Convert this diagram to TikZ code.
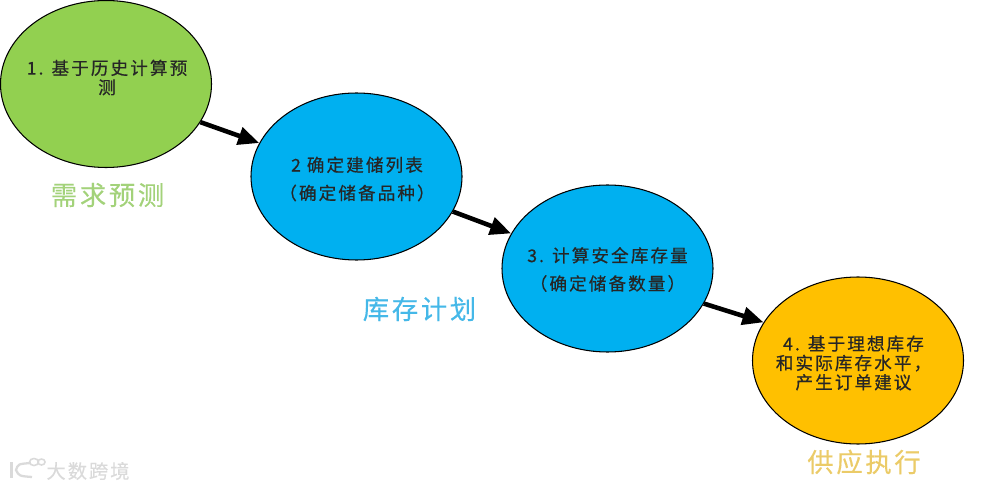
\documentclass[tikz,border=0pt]{standalone}
\usepackage{fontspec}
\usepackage{xcolor}
\usetikzlibrary{shapes.geometric,arrows.meta}
\newfontfamily\cjk[LetterSpace=12,FakeBold=0.6]{Noto Sans CJK SC}
\newfontfamily\cjkwide[LetterSpace=10,FakeBold=0.3]{Noto Sans CJK SC}
\definecolor{demandfill}{HTML}{92D050}
\definecolor{planfill}{HTML}{00B0F0}
\definecolor{supplyfill}{HTML}{FFC000}
\definecolor{demandlabel}{HTML}{A3D27A}
\definecolor{planlabel}{HTML}{45B8E8}
\definecolor{supplylabel}{HTML}{EBCB68}
\definecolor{marktext}{HTML}{DADADA}

\begin{document}
\begin{tikzpicture}[
        stage/.style={ellipse, draw=black, line width=0.6pt, minimum width=4.22cm, minimum height=3.34cm, inner sep=0pt},
        stagetext/.style={align=center, text=black!85, font=\cjk\fontsize{10}{11}\selectfont},
        grouplabel/.style={font=\cjkwide\fontsize{15}{17}\selectfont},
        flow/.style={line width=2.6pt, -{Triangle[length=12pt,width=10pt]}}
    ]
        \useasboundingbox (0, 0) rectangle (20, 9.78);

        % Stages
        \node[stage, fill=demandfill] (demand) at (2.12, 8.1) {};
        \node[stage, fill=planfill] (plan) at (7.13, 6.25) {};
        \node[stage, fill=planfill] (safety) at (12.15, 4.41) {};
        \node[stage, fill=supplyfill] (supply) at (17.16, 2.57) {};

        % Stage texts
        \node[stagetext] (demandtext) at (2.14, 8.23) {1. 基于历史计算预\\测};
        \node[stagetext] (plantext) at (7.14, 6.2) {2 确定建储列表\\[5pt]（确定储备品种）};
        \node[stagetext] (safetytext) at (12.15, 4.39) {3. 计算安全库存量\\[5pt]（确定储备数量）};
        \node[stagetext] (supplytext) at (17.07, 2.52) {4. 基于理想库存\\和实际库存水平，\\产生订单建议};

        % Group labels
        \node[grouplabel, text=demandlabel] (demandlabel) at (2.15, 5.88) {需求预测};
        \node[grouplabel, text=planlabel] (planlabel) at (8.39, 3.6) {库存计划};
        \node[grouplabel, text=supplylabel] (supplylabel) at (17.28, 0.54) {供应执行};

        % Connections
        \draw[flow] (demand.-22) -- (plan.161);
        \draw[flow] (plan.-20) -- (safety.160);
        \draw[flow] (safety.-20) -- (supply.158);

        % Watermark
        \node[font=\cjkwide\fontsize{11}{12}\selectfont, text=marktext] (mark) at (1.76, 0.36) {大数跨境};
        \draw[marktext, line width=1.3pt] (0.23, 0.54) -- (0.23, 0.22);
        \draw[marktext, line width=1.3pt] (0.62, 0.52) .. controls (0.36, 0.5) .. (0.32, 0.38) .. controls (0.38, 0.26) .. (0.64, 0.24);
        \draw[marktext, line width=0.9pt] (0.68, 0.54) ellipse (0.09 and 0.07);
        \draw[marktext, line width=0.9pt] (0.83, 0.54) ellipse (0.07 and 0.06);
    \end{tikzpicture}
\end{document}
